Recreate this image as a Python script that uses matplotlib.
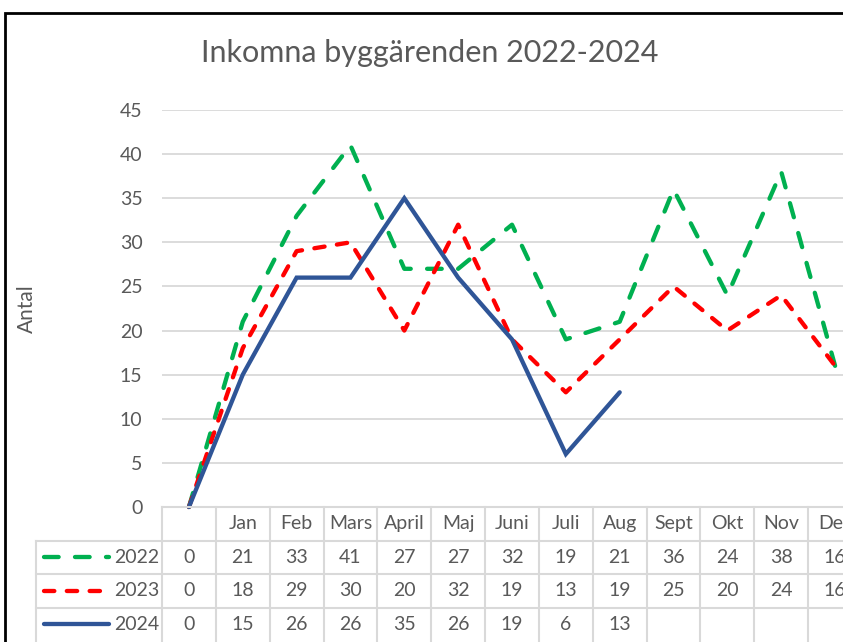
import numpy as np
import matplotlib
matplotlib.use('Agg')
import matplotlib.pyplot as plt
from matplotlib.patches import Rectangle
from matplotlib.transforms import blended_transform_factory

plt.rcParams['font.family'] = ['Lato', 'DejaVu Sans']

# Data region.
months = ['', 'Jan', 'Feb', 'Mars', 'April', 'Maj', 'Juni', 'Juli', 'Aug',
          'Sept', 'Okt', 'Nov', 'Dec']
years = ['2022', '2023', '2024']
v2022 = [0, 21, 33, 41, 27, 27, 32, 19, 21, 36, 24, 38, 16]
v2023 = [0, 18, 29, 30, 20, 32, 19, 13, 19, 25, 20, 24, 16]
v2024 = [0, 15, 26, 26, 35, 26, 19, 6, 13]
yticks = [0, 5, 10, 15, 20, 25, 30, 35, 40, 45]

text_color = '#595959'
grid_color = '#D9D9D9'
styles = [
    dict(color='#00B050', dashes=(3.4, 3.8)),
    dict(color='#FF0000', dashes=(2.4, 2.9)),
    dict(color='#2F5597'),
]

W, H = 843, 642
fig = plt.figure(figsize=(W / 100, H / 100), dpi=100)
# the chart is cropped on the right, so the axes run past the figure edge
ax = fig.add_axes([162 / W, (H - 507) / H, 700 / W, 397 / H])

series = [v2022, v2023, v2024]
for vals, st in zip(series, styles):
    ax.plot(np.arange(len(vals)), vals, lw=3.1, solid_capstyle='round',
            dash_capstyle='round', solid_joinstyle='miter', clip_on=False, **st)

ax.set_xlim(-0.5, len(months) - 0.5)
ax.set_ylim(0, 45)
ax.set_yticks(yticks)
ax.set_xticks([])
ax.tick_params(axis='y', length=0, pad=14, labelsize=14, labelcolor=text_color)
ax.grid(axis='y', color=grid_color, lw=1.3)
ax.set_axisbelow(True)
for s in ax.spines.values():
    s.set_visible(False)

fig.text(27 / W, 0.52, 'Antal', rotation=90, ha='center', va='center',
         fontsize=15, color=text_color)
fig.text(430 / W, 1 - 53 / H, 'Inkomna byggärenden 2022-2024', ha='center',
         va='center', fontsize=22, color=text_color)

# Data table below the plot.
trans = blended_transform_factory(ax.transData, ax.transAxes)
rh = 33.5 / 397
n = len(months)
left = -0.5 - 126 / (700 / n)
line_kw = dict(color=grid_color, lw=1.5, transform=trans, clip_on=False)

ax.plot([-0.5, n - 0.5], [0, 0], **line_kw)
for k in range(1, 4):
    ax.plot([left, n - 0.5], [-k * rh, -k * rh], **line_kw)
for i in range(n + 1):
    ax.plot([i - 0.5, i - 0.5], [0, -4.3 * rh], **line_kw)
ax.plot([left, left], [-rh, -4.3 * rh], **line_kw)

for i, m in enumerate(months):
    ax.text(i, -0.5 * rh, m, transform=trans, ha='center', va='center',
            fontsize=14, color=text_color, clip_on=False)

for k, (yr, vals, st) in enumerate(zip(years, series, styles)):
    yc = -(k + 1.5) * rh
    ax.plot([left + 0.15, left + 1.35], [yc, yc], lw=3.1, transform=trans,
            clip_on=False, solid_capstyle='round', dash_capstyle='round', **st)
    ax.text(-0.55, yc, yr, transform=trans, ha='right', va='center',
            fontsize=14, color=text_color, clip_on=False)
    for i, v in enumerate(vals):
        ax.text(i, yc, str(v), transform=trans, ha='center', va='center',
                fontsize=14, color=text_color, clip_on=False)

# Black frame around the chart, cut off at right and bottom.
fig.patches.append(Rectangle((5 / W, -0.1), 2, 1 - 13 / H + 0.1,
                             transform=fig.transFigure, fill=False,
                             ec='black', lw=2))

fig.savefig('out.png', dpi=100)
